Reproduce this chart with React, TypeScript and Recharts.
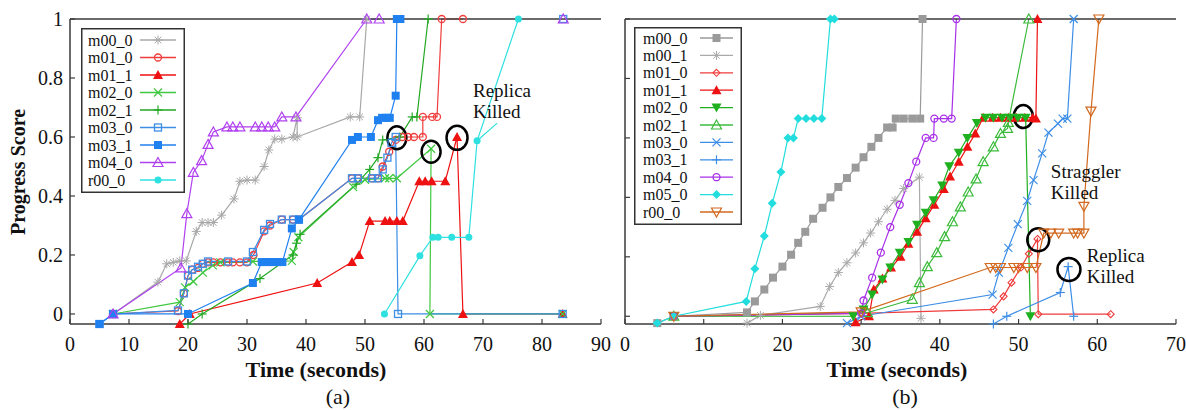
import React from 'react';
import { LineChart, Line, XAxis, YAxis, Legend, ReferenceDot, ReferenceLine } from 'recharts';

const FONT = '"Liberation Serif", "Times New Roman", serif';
const AXIS = '#3a3a3a';
const TICK = 5;

type Pt = [number, number];

// ---- panel (a): time (s), progress score ----
const A_M00_0: Pt[] = [[7.3, 0], [14.9, 0.108], [16.4, 0.17], [17.5, 0.175], [18.6, 0.18], [19.7, 0.18], [21.4, 0.28], [22.4, 0.31], [23.4, 0.31], [24.3, 0.31], [25.7, 0.335], [27.8, 0.39], [28.8, 0.45], [30, 0.454], [31.4, 0.454], [32.9, 0.5], [33.7, 0.556], [34.7, 0.593], [35.9, 0.593], [37.8, 0.6], [38.5, 0.665], [38.5, 0.6], [47.5, 0.668], [49.1, 0.668], [50.3, 1]];
const A_M01_0: Pt[] = [[7.3, 0], [18.3, 0.01], [19.3, 0.07], [20, 0.13], [20.7, 0.15], [21.7, 0.156], [22.5, 0.17], [23.4, 0.175], [24.3, 0.175], [25.5, 0.175], [26.8, 0.175], [27.6, 0.175], [28.8, 0.175], [30, 0.175], [31.1, 0.2], [32.9, 0.28], [33.9, 0.3], [35.9, 0.32], [37.8, 0.32], [38.8, 0.32], [47.8, 0.46], [48.8, 0.46], [51.2, 0.46], [52.2, 0.46], [53, 0.5], [54.1, 0.55], [55.2, 0.59], [56.3, 0.6], [57.3, 0.6], [58.3, 0.6], [59.8, 0.6], [59.8, 0.668], [61.4, 0.668], [62.2, 0.668], [63, 1], [66.6, 1]];
const A_M01_1: Pt[] = [[18.6, -0.034], [20.3, 0], [41.9, 0.105], [47.8, 0.176], [49, 0.2], [50.8, 0.315], [53.4, 0.315], [54.2, 0.315], [55.4, 0.315], [56.4, 0.315], [59.2, 0.45], [60.2, 0.45], [61.3, 0.45], [63.6, 0.45], [65.6, 0.6], [66.6, 0], [83.5, 0]];
const A_M02_0: Pt[] = [[7.3, 0], [18.6, 0.04], [19.5, 0.09], [20.9, 0.11], [22.5, 0.14], [24.2, 0.165], [25.5, 0.175], [31, 0.178], [37.6, 0.18], [37.9, 0.21], [38.7, 0.26], [48, 0.43], [50, 0.455], [53.4, 0.46], [54.1, 0.46], [55.4, 0.46], [61.2, 0.56], [61, 0], [83.5, 0]];
const A_M02_1: Pt[] = [[20, -0.034], [22.4, 0], [32.2, 0.12], [37.8, 0.2], [38.4, 0.24], [39, 0.27], [48.5, 0.44], [50.8, 0.49], [52.2, 0.53], [53, 0.59], [55.9, 0.6], [58, 0.668], [58.8, 0.668], [60.7, 1]];
const A_M03_0: Pt[] = [[5, -0.034], [7.3, 0], [18.3, 0.012], [19.3, 0.07], [20, 0.13], [20.7, 0.15], [21.7, 0.16], [22.5, 0.17], [23.4, 0.178], [26.8, 0.178], [30, 0.178], [31, 0.21], [32.9, 0.285], [33.9, 0.305], [35.9, 0.32], [37.8, 0.32], [38.8, 0.32], [47.8, 0.46], [48.8, 0.46], [51.2, 0.46], [52.2, 0.46], [53, 0.49], [53.8, 0.53], [54.5, 0.58], [55.2, 0.6], [55.6, 0], [83.5, 0]];
const A_M03_1: Pt[] = [[5, -0.034], [7.3, 0], [20, 0], [31, 0.105], [32.5, 0.176], [33.2, 0.176], [33.9, 0.176], [34.6, 0.176], [35.3, 0.176], [36, 0.176], [37.6, 0.29], [38.8, 0.32], [47.8, 0.59], [48.8, 0.6], [51, 0.6], [52.2, 0.657], [52.9, 0.665], [53.6, 0.665], [54.2, 0.665], [55.2, 0.74], [55.4, 1], [56, 1]];
const A_M04_0: Pt[] = [[7.3, 0], [18.8, 0.156], [19.8, 0.34], [20.9, 0.48], [22.3, 0.52], [23.4, 0.575], [24.3, 0.617], [26.6, 0.634], [27.6, 0.634], [28.8, 0.634], [31.4, 0.634], [32.5, 0.634], [33.6, 0.634], [34.7, 0.634], [35.9, 0.668], [38.3, 0.668], [50.3, 1], [52.4, 1]];
const A_R00_0: Pt[] = [[53.3, 0], [59.3, 0.197], [61.5, 0.26], [62.4, 0.26], [64.7, 0.26], [67.6, 0.26], [69, 0.587], [76, 1]];
// end-of-job marks at the top right of (a)
const A_END: Pt[] = [[83.6, 1]];

// ---- panel (b) ----
const B_M00_0: Pt[] = [[4.1, -0.023], [6.2, 0], [15.5, 0.013], [16.5, 0.05], [17.7, 0.09], [18.8, 0.13], [20, 0.167], [21.1, 0.207], [22, 0.247], [22.9, 0.284], [23.9, 0.328], [25.1, 0.365], [26.1, 0.4], [27.1, 0.435], [28.2, 0.465], [29.3, 0.5], [30.3, 0.535], [31.3, 0.57], [32.2, 0.6], [33.3, 0.635], [34, 0.635], [34.4, 0.665], [35.4, 0.665], [36.5, 0.665], [37.5, 0.665], [37.8, 1]];
const B_M00_1: Pt[] = [[15.5, -0.023], [17.2, 0.003], [24.8, 0.033], [26, 0.1], [27.1, 0.147], [28.2, 0.18], [29.3, 0.213], [30.3, 0.247], [31.2, 0.28], [32.2, 0.318], [33.3, 0.36], [34.3, 0.39], [35.4, 0.43], [37.4, 0.468], [37.6, -0.007]];
const B_M01_0: Pt[] = [[6.2, 0], [30, 0.01], [46.8, 0.023], [48.1, 0.067], [49.1, 0.113], [50.3, 0.164], [51.3, 0.21], [52.4, 0.26], [52.5, 0.007], [61.7, 0.007]];
const B_M01_1: Pt[] = [[29.3, -0.02], [31, 0], [31.6, 0.09], [32.7, 0.127], [33.8, 0.164], [35, 0.2], [36, 0.244], [37.1, 0.284], [38.2, 0.33], [39.3, 0.375], [40.5, 0.428], [41.3, 0.47], [42.4, 0.52], [43.5, 0.57], [44.5, 0.615], [45.5, 0.668], [46.7, 0.668], [47.7, 0.668], [48.7, 0.668], [49.7, 0.668], [50.8, 0.668], [51.8, 0.668], [52.2, 0.665], [52.4, 1]];
const B_M02_0: Pt[] = [[6.2, 0], [29, 0], [30.3, 0.023], [31.4, 0.073], [32.7, 0.124], [33.7, 0.164], [34.9, 0.214], [36, 0.25], [37.1, 0.308], [38.2, 0.348], [39.2, 0.39], [40.3, 0.44], [41.2, 0.505], [42.4, 0.55], [43.5, 0.6], [44.7, 0.65], [45.8, 0.668], [46.8, 0.668], [47.9, 0.668], [48.9, 0.668], [49.9, 0.668], [50.9, 0.668], [51.5, 0]];
const B_M02_1: Pt[] = [[6.2, 0], [30.8, 0.012], [36.5, 0.057], [37.4, 0.113], [38.4, 0.167], [39.6, 0.214], [40.6, 0.268], [41.6, 0.318], [42.6, 0.368], [43.6, 0.418], [44.6, 0.462], [45.5, 0.52], [46.8, 0.57], [47.7, 0.615], [48.6, 0.632], [48.7, 0.652], [51.3, 1]];
const B_M03_0: Pt[] = [[28.2, -0.023], [30, 0], [46.7, 0.073], [47.5, 0.147], [48.7, 0.23], [49.9, 0.31], [51.1, 0.388], [51.9, 0.458], [53, 0.548], [53.8, 0.618], [55, 0.648], [55.6, 0.665], [56.2, 0.665], [57, 1]];
const B_M03_1: Pt[] = [[46.8, -0.026], [48.5, 0], [55.3, 0.08], [56.3, 0.167], [57, 0]];
const B_M04_0: Pt[] = [[6.2, 0], [30, 0.01], [30.3, 0.053], [31.4, 0.13], [32.5, 0.214], [33.7, 0.3], [34.9, 0.375], [36, 0.448], [37, 0.52], [38.2, 0.6], [39.2, 0.6], [39.3, 0.665], [40.5, 0.665], [41.5, 0.665], [42.1, 1]];
const B_M05_0: Pt[] = [[4.1, -0.023], [6.2, 0], [15.4, 0.05], [16.5, 0.16], [17.7, 0.27], [18.7, 0.38], [19.8, 0.485], [20.7, 0.6], [21.4, 0.6], [22, 0.665], [23, 0.665], [24, 0.665], [25, 0.665], [26.1, 1], [26.6, 1]];
const B_R00_0: Pt[] = [[6.2, 0], [30, 0.015], [46.4, 0.164], [47.1, 0.164], [47.7, 0.164], [49.4, 0.164], [50, 0.164], [51.1, 0.164], [52.2, 0.164], [53.2, 0.28], [54.1, 0.28], [55.1, 0.28], [57, 0.28], [57.5, 0.28], [58.3, 0.28], [58.3, 0.37], [59.2, 0.69], [60.2, 1]];

const X_TICKS_A = [0, 10, 20, 30, 40, 50, 60, 70, 80, 90];
const X_TICKS_B = [0, 10, 20, 30, 40, 50, 60, 70];
const Y_TICKS = [0, 0.2, 0.4, 0.6, 0.8, 1];

type Series = { name: string; pts: Pt[]; color: string; mark: string; noLine?: boolean };

const SERIES_A: Series[] = [
  { name: 'm00_0', pts: A_M00_0, color: '#a8a8a8', mark: 'star' },
  { name: 'm01_0', pts: A_M01_0, color: '#f03c3c', mark: 'circleOpen' },
  { name: 'm01_1', pts: A_M01_1, color: '#ee1111', mark: 'triFilled' },
  { name: 'm02_0', pts: A_M02_0, color: '#40c840', mark: 'x' },
  { name: 'm02_1', pts: A_M02_1, color: '#22a822', mark: 'plus' },
  { name: 'm03_0', pts: A_M03_0, color: '#3d8ee6', mark: 'squareOpen' },
  { name: 'm03_1', pts: A_M03_1, color: '#1f80f0', mark: 'squareFilled' },
  { name: 'm04_0', pts: A_M04_0, color: '#b040f0', mark: 'triOpen' },
  { name: 'r00_0', pts: A_R00_0, color: '#2ee0e0', mark: 'dotFilled' },
];
const ENDS_A: Series[] = [
  { name: 'end_sq', pts: A_END, color: '#3d8ee6', mark: 'squareOpen', noLine: true },
  { name: 'end_tri', pts: A_END, color: '#b040f0', mark: 'triOpen', noLine: true },
];

const SERIES_B: Series[] = [
  { name: 'm00_0', pts: B_M00_0, color: '#9a9a9a', mark: 'squareFilled' },
  { name: 'm00_1', pts: B_M00_1, color: '#aaaaaa', mark: 'star' },
  { name: 'm01_0', pts: B_M01_0, color: '#f03c3c', mark: 'diamondOpen' },
  { name: 'm01_1', pts: B_M01_1, color: '#ee1111', mark: 'triFilled' },
  { name: 'm02_0', pts: B_M02_0, color: '#1fb01f', mark: 'triDownFilled' },
  { name: 'm02_1', pts: B_M02_1, color: '#3cbb3c', mark: 'triOpen' },
  { name: 'm03_0', pts: B_M03_0, color: '#3d8ee6', mark: 'x' },
  { name: 'm03_1', pts: B_M03_1, color: '#3d8ee6', mark: 'plus' },
  { name: 'm04_0', pts: B_M04_0, color: '#a830e8', mark: 'circleOpen' },
  { name: 'm05_0', pts: B_M05_0, color: '#22dddd', mark: 'diamondFilled' },
  { name: 'r00_0', pts: B_R00_0, color: '#d2691e', mark: 'triDownOpen' },
];

const rows = (pts: Pt[]) => pts.map(([t, p]) => ({ t, p }));

function Marker({ kind, cx, cy, color }: { kind: string; cx: number; cy: number; color: string }) {
  if (cx == null || cy == null) return null;
  switch (kind) {
    case 'star':
      return (
        <g stroke={color} strokeWidth={1}>
          <line x1={cx - 4.5} y1={cy} x2={cx + 4.5} y2={cy} />
          <line x1={cx} y1={cy - 4.5} x2={cx} y2={cy + 4.5} />
          <line x1={cx - 3.3} y1={cy - 3.3} x2={cx + 3.3} y2={cy + 3.3} />
          <line x1={cx - 3.3} y1={cy + 3.3} x2={cx + 3.3} y2={cy - 3.3} />
        </g>
      );
    case 'x':
      return (
        <g stroke={color} strokeWidth={1.2}>
          <line x1={cx - 4} y1={cy - 4} x2={cx + 4} y2={cy + 4} />
          <line x1={cx - 4} y1={cy + 4} x2={cx + 4} y2={cy - 4} />
        </g>
      );
    case 'plus':
      return (
        <g stroke={color} strokeWidth={1.2}>
          <line x1={cx - 4.5} y1={cy} x2={cx + 4.5} y2={cy} />
          <line x1={cx} y1={cy - 4.5} x2={cx} y2={cy + 4.5} />
        </g>
      );
    case 'circleOpen':
      return <circle cx={cx} cy={cy} r={3.5} fill="none" stroke={color} strokeWidth={1.3} />;
    case 'dotFilled':
      return <circle cx={cx} cy={cy} r={3.5} fill={color} />;
    case 'squareOpen':
      return <rect x={cx - 3.5} y={cy - 3.5} width={7} height={7} fill="none" stroke={color} strokeWidth={1.3} />;
    case 'squareFilled':
      return <rect x={cx - 4} y={cy - 4} width={8} height={8} fill={color} />;
    case 'triFilled':
      return <polygon points={`${cx},${cy - 5} ${cx + 5},${cy + 4} ${cx - 5},${cy + 4}`} fill={color} />;
    case 'triOpen':
      return <polygon points={`${cx},${cy - 5} ${cx + 5},${cy + 4} ${cx - 5},${cy + 4}`} fill="none" stroke={color} strokeWidth={1.2} />;
    case 'triDownFilled':
      return <polygon points={`${cx - 5},${cy - 4} ${cx + 5},${cy - 4} ${cx},${cy + 5}`} fill={color} />;
    case 'triDownOpen':
      return <polygon points={`${cx - 5},${cy - 4} ${cx + 5},${cy - 4} ${cx},${cy + 5}`} fill="none" stroke={color} strokeWidth={1.2} />;
    case 'diamondFilled':
      return <polygon points={`${cx},${cy - 4.5} ${cx + 4.5},${cy} ${cx},${cy + 4.5} ${cx - 4.5},${cy}`} fill={color} />;
    case 'diamondOpen':
      return <polygon points={`${cx},${cy - 3.5} ${cx + 3.5},${cy} ${cx},${cy + 3.5} ${cx - 3.5},${cy}`} fill="none" stroke={color} strokeWidth={1.1} />;
    default:
      return null;
  }
}

const bottomTick = (p: any) => (
  <g>
    <line x1={p.x} y1={p.y} x2={p.x} y2={p.y - TICK} stroke={AXIS} strokeWidth={1.2} />
    <text x={p.x} y={p.y + 27} textAnchor="middle" fontSize={20} fontFamily={FONT} fill="#111">
      {p.payload.value}
    </text>
  </g>
);
const topTick = (p: any) => <line x1={p.x} y1={p.y} x2={p.x} y2={p.y + TICK} stroke={AXIS} strokeWidth={1.2} />;
const leftTick = (label: boolean) => (p: any) => (
  <g>
    <line x1={p.x} y1={p.y} x2={p.x + TICK} y2={p.y} stroke={AXIS} strokeWidth={1.2} />
    {label && (
      <text x={p.x - 7} y={p.y} dy="0.35em" textAnchor="end" fontSize={20} fontFamily={FONT} fill="#111">
        {p.payload.value}
      </text>
    )}
  </g>
);
const rightTick = (p: any) => <line x1={p.x} y1={p.y} x2={p.x - TICK} y2={p.y} stroke={AXIS} strokeWidth={1.2} />;

function LegendBox({ series, w, h, rowTop, rowGap, textX, lineX1, lineX2 }: any) {
  return (
    <svg width={w} height={h} style={{ display: 'block' }}>
      <rect x={0.75} y={0.75} width={w - 1.5} height={h - 1.5} fill="#fff" stroke="#333" strokeWidth={1.5} />
      {series.map((s: Series, i: number) => {
        const y = rowTop + i * rowGap;
        return (
          <g key={s.name}>
            <text x={textX} y={y} dy="0.35em" fontSize={16} fontFamily={FONT} fill="#111">
              {s.name}
            </text>
            <line x1={lineX1} x2={lineX2} y1={y} y2={y} stroke={s.color} strokeWidth={1.3} />
            <Marker kind={s.mark} cx={(lineX1 + lineX2) / 2} cy={y} color={s.color} />
          </g>
        );
      })}
    </svg>
  );
}

const ring = (rx: number, ry: number) => (p: any) => (
  <ellipse cx={p.cx} cy={p.cy} rx={rx} ry={ry} fill="none" stroke="#000" strokeWidth={2.5} />
);
const note = (lines: string[]) => (p: any) => (
  <text x={p.cx} y={p.cy} fontSize={19} fontFamily={FONT} fill="#111">
    {lines.map((l, i) => (
      <tspan key={i} x={p.cx} dy={i === 0 ? 0 : 21}>
        {l}
      </tspan>
    ))}
  </text>
);

function drawLines(series: Series[], prefix: string) {
  return series.map((s) => (
    <Line
      key={prefix + s.name}
      name={s.name}
      data={rows(s.pts)}
      dataKey="p"
      type="linear"
      stroke={s.noLine ? 'none' : s.color}
      strokeWidth={1.2}
      legendType="none"
      dot={(d: any) => <Marker key={prefix + s.name + d.index} kind={s.mark} cx={d.cx} cy={d.cy} color={s.color} />}
      activeDot={false}
      isAnimationActive={false}
    />
  ));
}

function Frame({ xMax, xTicks, topTicks, yMin, leftLabels }: any) {
  return [
    <XAxis key="xb" dataKey="t" type="number" domain={[0, xMax]} ticks={xTicks} interval={0} height={30}
      tickSize={0} tickMargin={0} tickLine={false} axisLine={{ stroke: AXIS, strokeWidth: 1.5 }} tick={bottomTick} />,
    <XAxis key="xt" xAxisId="top" orientation="top" dataKey="t" type="number" domain={[0, xMax]} ticks={topTicks}
      interval={0} height={0} tickSize={0} tickMargin={0} tickLine={false} axisLine={{ stroke: AXIS, strokeWidth: 1.5 }} tick={topTick} />,
    <YAxis key="yl" type="number" domain={[yMin, 1]} ticks={Y_TICKS} interval={0} width={leftLabels ? 60 : 10}
      tickSize={0} tickMargin={0} tickLine={false} axisLine={{ stroke: AXIS, strokeWidth: 1.5 }} tick={leftTick(leftLabels)} />,
    <YAxis key="yr" yAxisId="r" orientation="right" type="number" domain={[yMin, 1]} ticks={Y_TICKS} interval={0} width={0}
      tickSize={0} tickMargin={0} tickLine={false} axisLine={{ stroke: AXIS, strokeWidth: 1.5 }} tick={rightTick} />,
  ];
}

export default function App() {
  return (
    <div style={{ position: 'absolute', left: 0, top: 0, width: 1186, height: 410, background: '#fff', fontFamily: FONT }}>
      <div style={{ position: 'absolute', left: 0, top: 0 }}>
        <LineChart width={615} height={410} margin={{ top: 19, right: 14, bottom: 56, left: 10 }}>
          {Frame({ xMax: 90, xTicks: X_TICKS_A, topTicks: [10, 20, 30, 40, 50, 60, 70, 80], yMin: -0.034, leftLabels: true })}
          <Legend
            layout="vertical"
            align="center"
            verticalAlign="middle"
            wrapperStyle={{ left: 81, top: 28, width: 104, height: 165 }}
            content={() => (
              <LegendBox series={SERIES_A} w={104} h={165} rowTop={12} rowGap={17.5} textX={7} lineX1={59} lineX2={95} />
            )}
          />
          {drawLines(SERIES_A, 'a')}
          {drawLines(ENDS_A, 'e')}
          {/* redraw the top border over series that finish at 1 */}
          <ReferenceLine y={1} stroke={AXIS} strokeWidth={1.5} />
          <ReferenceLine segment={[{ x: 69, y: 0.587 }, { x: 72.4, y: 0.647 }]} stroke="#2ee0e0" strokeWidth={1.2} />
          <ReferenceDot x={55.4} y={0.597} r={0} shape={ring(9.5, 11.5)} />
          <ReferenceDot x={61.2} y={0.55} r={0} shape={ring(9.5, 11)} />
          <ReferenceDot x={65.6} y={0.597} r={0} shape={ring(10.5, 12)} />
          <ReferenceDot x={68.3} y={0.736} r={0} shape={note(['Replica', 'Killed'])} />
        </LineChart>
      </div>
      <div style={{ position: 'absolute', left: 615, top: 0 }}>
        <LineChart width={571} height={410} margin={{ top: 19, right: 10, bottom: 56, left: 0 }}>
          {Frame({ xMax: 70, xTicks: X_TICKS_B, topTicks: [10, 20, 30, 40, 50, 60], yMin: -0.023, leftLabels: false })}
          <Legend
            layout="vertical"
            align="center"
            verticalAlign="middle"
            wrapperStyle={{ left: 19, top: 27, width: 108, height: 198 }}
            content={() => (
              <LegendBox series={SERIES_B} w={108} h={198} rowTop={11} rowGap={17.4} textX={9} lineX1={66} lineX2={99} />
            )}
          />
          {drawLines(SERIES_B, 'b')}
          <ReferenceLine y={1} stroke={AXIS} strokeWidth={1.5} />
          <ReferenceDot x={50.6} y={0.672} r={0} shape={ring(9.5, 11.5)} />
          <ReferenceDot x={52.5} y={0.257} r={0} shape={ring(11, 11.5)} />
          <ReferenceDot x={56.4} y={0.157} r={0} shape={ring(11.5, 11.5)} />
          <ReferenceDot x={54.1} y={0.465} r={0} shape={note(['Straggler', 'Killed'])} />
          <ReferenceDot x={58.65} y={0.184} r={0} shape={note(['Replica', 'Killed'])} />
        </LineChart>
      </div>
      <svg width={1186} height={410} style={{ position: 'absolute', left: 0, top: 0, pointerEvents: 'none' }}>
        <text transform="translate(25,172) rotate(-90)" textAnchor="middle" fontSize={20} fontWeight="bold" fontFamily={FONT} fill="#111">
          Progress Score
        </text>
        <text x={316} y={377} textAnchor="middle" fontSize={22} fontWeight="bold" fontFamily={FONT} fill="#111">
          Time (seconds)
        </text>
        <text x={897} y={377} textAnchor="middle" fontSize={22} fontWeight="bold" fontFamily={FONT} fill="#111">
          Time (seconds)
        </text>
        <text x={338} y={404} textAnchor="middle" fontSize={22} fontFamily={FONT} fill="#111">
          (a)
        </text>
        <text x={905} y={404} textAnchor="middle" fontSize={22} fontFamily={FONT} fill="#111">
          (b)
        </text>
      </svg>
    </div>
  );
}
